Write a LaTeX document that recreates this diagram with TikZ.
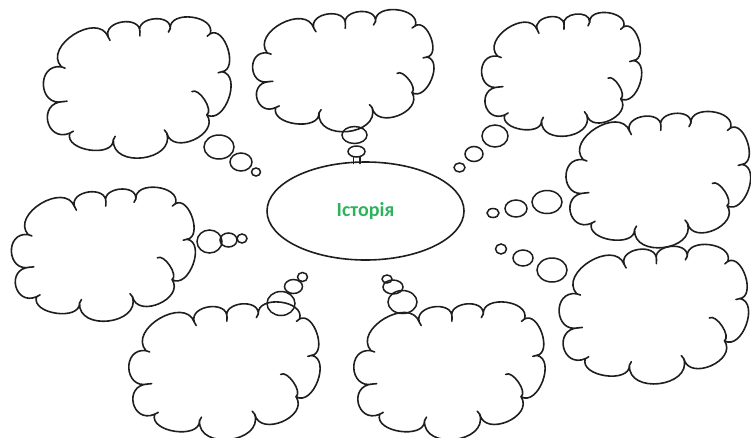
\documentclass[tikz,border=0pt]{standalone}
\usepackage{fontspec}
\newfontfamily\carlito{Carlito}
\usetikzlibrary{calc,shapes.geometric}
\definecolor{histgreen}{RGB}{46,178,92}
\definecolor{inkc}{RGB}{30,30,30}
\tikzset{
  cloudline/.style={draw=inkc, line width=1.6pt, line cap=round, line join=round},
  bubble/.style={ellipse, draw=inkc, line width=1.5pt, inner sep=0pt},
  centre/.style={ellipse, draw=inkc, line width=1.6pt, inner sep=0pt,
    minimum width=197pt, minimum height=98pt,
    font=\carlito\bfseries\fontsize{20}{22}\selectfont, text=histgreen},
}
\newcommand\cloudlobe[4]{.. controls ($(#1)!#3!-#4:(#2)$) and ($(#2)!#3!#4:(#1)$) .. (#2)}
\newcommand\cloudat[5]{%
  \foreach \n/\pu/\pv in {A/0.097/0.353,B/0.106/0.600,C/0.142/0.824,D/0.372/0.871,
      E/0.655/0.824,F/0.867/0.694,G/0.947/0.388,H/0.885/0.118,I/0.673/0.082,
      J/0.513/0.106,K/0.345/0.141,X/0.788/0.529,Z/0.5/0.55}
    {\coordinate (#1\n) at ({#2+\pu*#4},{#3+\pv*#5});}
  \draw[cloudline] (#1A) \cloudlobe{#1A}{#1B}{0.73}{100} \cloudlobe{#1B}{#1C}{0.8}{100}
    \cloudlobe{#1C}{#1D}{0.42}{100} \cloudlobe{#1D}{#1E}{0.54}{100}
    \cloudlobe{#1E}{#1F}{0.53}{100} \cloudlobe{#1F}{#1G}{0.45}{100}
    \cloudlobe{#1G}{#1H}{0.42}{100} \cloudlobe{#1H}{#1I}{0.47}{100}
    \cloudlobe{#1I}{#1J}{0.51}{100} \cloudlobe{#1J}{#1K}{0.53}{100}
    \cloudlobe{#1K}{#1A}{0.5}{100};
  \draw[cloudline] (#1F) \cloudlobe{#1F}{#1X}{0.3}{90};
  \foreach \n in {A,B,C,D,E,G,H,I,J,K}
    {\draw[cloudline] (#1\n) -- ($(#1\n)!4pt!(#1Z)$);}
}
\begin{document}
\begin{tikzpicture}[x=1pt,y=-1pt]
  \useasboundingbox (0,0) rectangle (751,437);
  \clip (0,0) rectangle (751,437);
  % clouds
  \cloudat{ca}{43}{17}{189}{141}
  \cloudat{cb}{249}{12}{188}{116}
  \cloudat{cc}{482}{12}{160}{125}
  \cloudat{cd}{565}{112}{187}{135}
  \cloudat{ce}{558}{245}{192}{138}
  \cloudat{cf}{127}{303}{195}{135}
  \cloudat{cg}{352}{303}{195}{135}
  \cloudat{ch}{10}{188}{187}{132}
  % centre
  \node[centre] (hist) at (365.5,211) {\raisebox{-3pt}{Історія}};
  % bubbles top-left
  \node[bubble, minimum width=30pt, minimum height=24pt] (ba1) at (219,147) {};
  \node[bubble, minimum width=22pt, minimum height=18pt] (ba2) at (241,162) {};
  \node[bubble, minimum width=9pt, minimum height=8pt] (ba3) at (256,172) {};
  % bubbles top-centre
  \node[bubble, minimum width=25pt, minimum height=17pt] (bb1) at (354.5,135) {};
  \node[bubble, minimum width=17pt, minimum height=11pt] (bb2) at (356.5,151.5) {};
  \coordinate (nl) at (353.5,157);
  \coordinate (nr) at (360,157);
  \coordinate (nl2) at (353.5,163.5);
  \coordinate (nr2) at (360,163.5);
  \draw[cloudline] (nl) -- (nl2) (nr) -- (nr2);
  % bubbles top-right
  \node[bubble, minimum width=26pt, minimum height=22pt] (bc1) at (495,136) {};
  \node[bubble, minimum width=18pt, minimum height=15pt] (bc2) at (474,154) {};
  \node[bubble, minimum width=11pt, minimum height=9pt] (bc3) at (459.5,167.5) {};
  % bubbles right-middle
  \node[bubble, minimum width=30pt, minimum height=23pt] (bd1) at (547,202) {};
  \node[bubble, minimum width=22pt, minimum height=17pt] (bd2) at (516,208.5) {};
  \node[bubble, minimum width=12pt, minimum height=9pt] (bd3) at (493,213) {};
  % bubbles bottom-right
  \node[bubble, minimum width=11pt, minimum height=10pt] (be3) at (501,249) {};
  \node[bubble, minimum width=20pt, minimum height=16pt] (be2) at (523,258) {};
  \node[bubble, minimum width=30pt, minimum height=24pt] (be1) at (552,270) {};
  % bubbles left
  \node[bubble, minimum width=25pt, minimum height=23pt] (bh1) at (209.5,241.5) {};
  \node[bubble, minimum width=17pt, minimum height=14pt] (bh2) at (228.5,240) {};
  \node[bubble, minimum width=10pt, minimum height=9pt] (bh3) at (242,238.5) {};
  % bubbles bottom-left
  \node[bubble, minimum width=10pt, minimum height=9pt] (bf3) at (302.5,277) {};
  \node[bubble, minimum width=18pt, minimum height=14pt] (bf2) at (293.5,286.5) {};
  \node[bubble, minimum width=28pt, minimum height=24pt] (bf1) at (281,303.5) {};
  % bubbles bottom-centre
  \node[bubble, minimum width=10pt, minimum height=8pt] (bg3) at (387,279) {};
  \node[bubble, minimum width=20pt, minimum height=14pt] (bg2) at (393,287) {};
  \node[bubble, minimum width=29pt, minimum height=23pt] (bg1) at (402.5,302) {};
\end{tikzpicture}
\end{document}
